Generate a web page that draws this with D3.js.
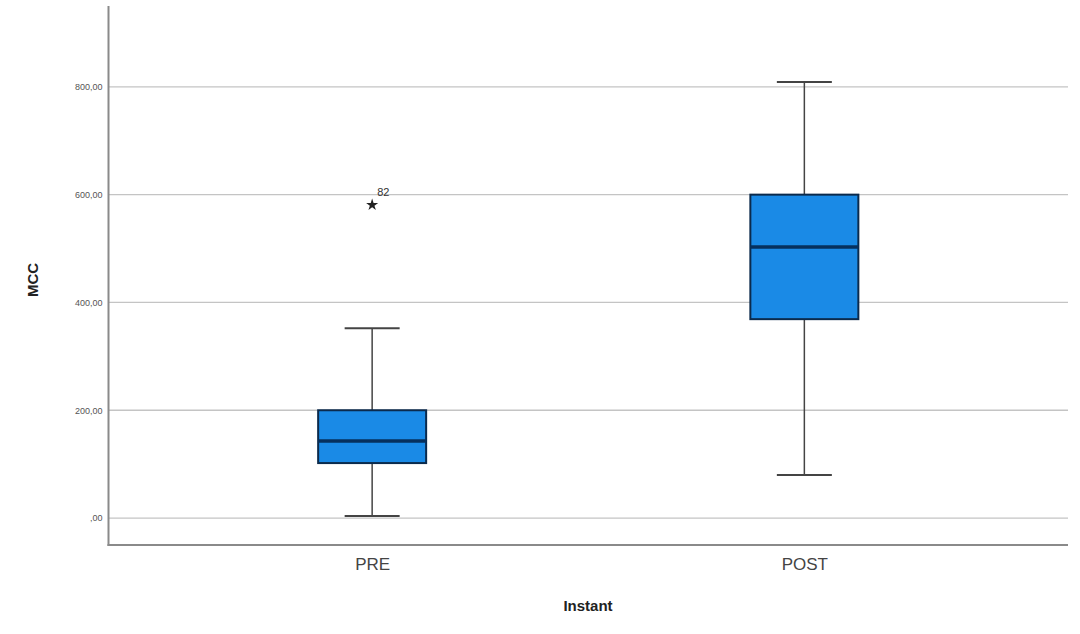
<!DOCTYPE html>
<html><head><meta charset="utf-8">
<script src="https://cdn.jsdelivr.net/npm/d3@7"></script>
<style>body{margin:0;background:#fff}svg{display:block}</style>
</head><body><svg id="c" width="1080" height="634"></svg>
<script>
const categories = ["PRE", "POST"];
const whiskerLow = [4, 80];
const q1 = [102, 369];
const median = [143, 503];
const q3 = [200, 600];
const whiskerHigh = [352, 809];
const outlierValues = [[581], []];
const outlierLabels = [["82"], []];
const yTicks = [0, 200, 400, 600, 800];
const yTickLabels = [",00", "200,00", "400,00", "600,00", "800,00"];

(function () {
const svg = d3.select("#c");
const pLeft = 108.5, pRight = 1068, pTop = 6, pBottom = 545;
const x = d3.scalePoint().domain(categories).range([pLeft, pRight]).padding(0.61);
const y = d3.scaleLinear().domain([-50, 950]).range([pBottom, pTop]);

// gridlines
svg.append("g").selectAll("line").data(yTicks).join("line")
  .attr("x1", pLeft).attr("x2", pRight)
  .attr("y1", d => y(d)).attr("y2", d => y(d))
  .attr("stroke", "#c4c4c4").attr("stroke-width", 1.3);

// y axis
const yAxis = svg.append("g").attr("transform", `translate(${pLeft},0)`)
  .call(d3.axisLeft(y).tickValues(yTicks).tickSize(0).tickPadding(6)
    .tickFormat((d, i) => yTickLabels[i]));
yAxis.select(".domain").remove();
yAxis.selectAll("text").attr("font-family", "Liberation Sans, Arial, sans-serif")
  .attr("font-size", 9).attr("fill", "#555");

// x axis
const xAxis = svg.append("g").attr("transform", `translate(0,${pBottom})`)
  .call(d3.axisBottom(x).tickSize(0).tickPadding(13));
xAxis.select(".domain").remove();
xAxis.selectAll("text").attr("font-family", "Liberation Sans, Arial, sans-serif")
  .attr("font-size", 17).attr("fill", "#444");

// axis lines
svg.append("line").attr("x1", pLeft).attr("x2", pLeft).attr("y1", pTop).attr("y2", pBottom + 1)
  .attr("stroke", "#8a8a8a").attr("stroke-width", 2);
svg.append("line").attr("x1", pLeft - 1).attr("x2", pRight).attr("y1", pBottom).attr("y2", pBottom)
  .attr("stroke", "#8a8a8a").attr("stroke-width", 2);

// boxes
const boxW = 108, capW = 55;
const g = svg.append("g");
categories.forEach((c, i) => {
  const cx = x(c);
  g.append("line").attr("x1", cx).attr("x2", cx).attr("y1", y(whiskerHigh[i])).attr("y2", y(q3[i]))
    .attr("stroke", "#444").attr("stroke-width", 1.5);
  g.append("line").attr("x1", cx).attr("x2", cx).attr("y1", y(q1[i])).attr("y2", y(whiskerLow[i]))
    .attr("stroke", "#444").attr("stroke-width", 1.5);
  g.append("line").attr("x1", cx - capW / 2).attr("x2", cx + capW / 2)
    .attr("y1", y(whiskerHigh[i])).attr("y2", y(whiskerHigh[i]))
    .attr("stroke", "#444").attr("stroke-width", 2);
  g.append("line").attr("x1", cx - capW / 2).attr("x2", cx + capW / 2)
    .attr("y1", y(whiskerLow[i])).attr("y2", y(whiskerLow[i]))
    .attr("stroke", "#444").attr("stroke-width", 2);
  g.append("rect").attr("x", cx - boxW / 2).attr("width", boxW)
    .attr("y", y(q3[i])).attr("height", y(q1[i]) - y(q3[i]))
    .attr("fill", "#1a8ae6").attr("stroke", "#0b2a4c").attr("stroke-width", 2);
  g.append("line").attr("x1", cx - boxW / 2).attr("x2", cx + boxW / 2)
    .attr("y1", y(median[i])).attr("y2", y(median[i]))
    .attr("stroke", "#06305e").attr("stroke-width", 3.5);
  outlierValues[i].forEach((v, j) => {
    g.append("path").attr("transform", `translate(${cx},${y(v)})`)
      .attr("d", d3.symbol(d3.symbolStar, 45)())
      .attr("fill", "#222");
    g.append("text").attr("x", cx + 5).attr("y", y(v) - 9)
      .attr("font-family", "Liberation Sans, Arial, sans-serif").attr("font-size", 11)
      .attr("fill", "#333").text(outlierLabels[i][j]);
  });
});

// axis titles
svg.append("text").attr("x", 588).attr("y", 611).attr("text-anchor", "middle")
  .attr("font-family", "Liberation Sans, Arial, sans-serif").attr("font-weight", "bold")
  .attr("font-size", 15).attr("fill", "#222").text("Instant");
svg.append("text").attr("transform", "translate(38,280) rotate(-90)").attr("text-anchor", "middle")
  .attr("font-family", "Liberation Sans, Arial, sans-serif").attr("font-weight", "bold")
  .attr("font-size", 15).attr("fill", "#222").text("MCC");
})();
</script></body></html>
